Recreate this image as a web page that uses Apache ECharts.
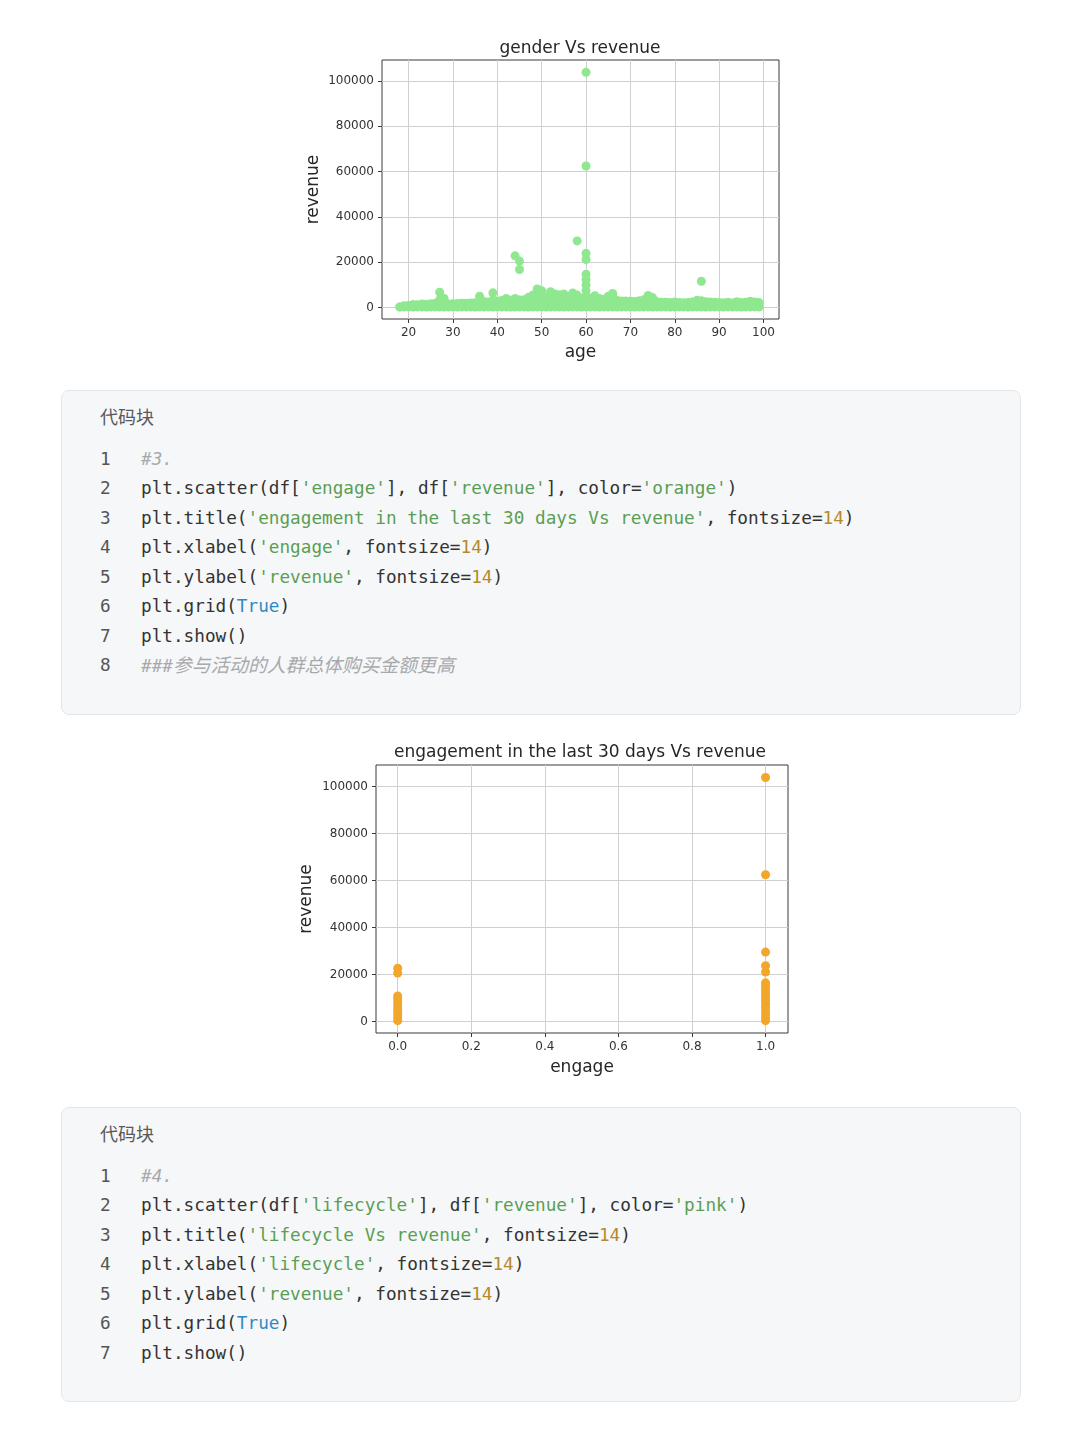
<!DOCTYPE html>
<html>
<head>
<meta charset="utf-8">
<title>revenue scatter</title>
<script src="https://cdn.jsdelivr.net/npm/echarts@6/dist/echarts.min.js"></script>
<style>
    html, body { margin: 0; padding: 0; background: #ffffff; }
    #page { position: relative; width: 1080px; height: 1440px; overflow: hidden; }
    #chart { position: absolute; left: 0; top: 0; width: 1080px; height: 1440px; }
    .code-box {
        position: absolute; left: 61px; width: 960px;
        background: #f6f7f8; border: 1px solid #e4e5e7; border-radius: 8px;
        box-sizing: border-box;
    }
    .code-head {
        position: absolute; left: 38px; font-family: "Noto Sans CJK SC", sans-serif;
        font-size: 18px; color: #595959; line-height: 24px;
    }
    .code-line {
        position: absolute; left: 0; height: 29px; line-height: 29px; white-space: pre;
        font-family: "DejaVu Sans Mono", "Noto Sans CJK SC", monospace; font-size: 17.7px; color: #333333;
    }
    .code-line .no { position: absolute; left: 38px; color: #555555; }
    .code-line .tx { position: absolute; left: 79px; }
    .s { color: #5a9e55; }
    .n { color: #b58a2c; }
    .k { color: #2f8ac4; }
    .c { color: #a7a9ad; font-style: italic; }
    .cjk { font-size: 18.8px; }
</style>
</head>
<body>
<div id="page">
    <div id="chart"></div>

    <div class="code-box" style="top:390px;height:325px;">
        <div class="code-head" style="top:13px;">代码块</div>
        <div class="code-line" style="top:54px;"><span class="no">1</span><span class="tx"><span class="c">#3.</span></span></div>
        <div class="code-line" style="top:83px;"><span class="no">2</span><span class="tx">plt.scatter(df[<span class="s">'engage'</span>], df[<span class="s">'revenue'</span>], color=<span class="s">'orange'</span>)</span></div>
        <div class="code-line" style="top:113px;"><span class="no">3</span><span class="tx">plt.title(<span class="s">'engagement in the last 30 days Vs revenue'</span>, fontsize=<span class="n">14</span>)</span></div>
        <div class="code-line" style="top:142px;"><span class="no">4</span><span class="tx">plt.xlabel(<span class="s">'engage'</span>, fontsize=<span class="n">14</span>)</span></div>
        <div class="code-line" style="top:172px;"><span class="no">5</span><span class="tx">plt.ylabel(<span class="s">'revenue'</span>, fontsize=<span class="n">14</span>)</span></div>
        <div class="code-line" style="top:201px;"><span class="no">6</span><span class="tx">plt.grid(<span class="k">True</span>)</span></div>
        <div class="code-line" style="top:231px;"><span class="no">7</span><span class="tx">plt.show()</span></div>
        <div class="code-line" style="top:260px;"><span class="no">8</span><span class="tx"><span class="c">###<span class="cjk">参与活动的人群总体购买金额更高</span></span></span></div>
    </div>

    <div class="code-box" style="top:1107px;height:295px;">
        <div class="code-head" style="top:13px;">代码块</div>
        <div class="code-line" style="top:54px;"><span class="no">1</span><span class="tx"><span class="c">#4.</span></span></div>
        <div class="code-line" style="top:83px;"><span class="no">2</span><span class="tx">plt.scatter(df[<span class="s">'lifecycle'</span>], df[<span class="s">'revenue'</span>], color=<span class="s">'pink'</span>)</span></div>
        <div class="code-line" style="top:113px;"><span class="no">3</span><span class="tx">plt.title(<span class="s">'lifecycle Vs revenue'</span>, fontsize=<span class="n">14</span>)</span></div>
        <div class="code-line" style="top:142px;"><span class="no">4</span><span class="tx">plt.xlabel(<span class="s">'lifecycle'</span>, fontsize=<span class="n">14</span>)</span></div>
        <div class="code-line" style="top:172px;"><span class="no">5</span><span class="tx">plt.ylabel(<span class="s">'revenue'</span>, fontsize=<span class="n">14</span>)</span></div>
        <div class="code-line" style="top:201px;"><span class="no">6</span><span class="tx">plt.grid(<span class="k">True</span>)</span></div>
        <div class="code-line" style="top:231px;"><span class="no">7</span><span class="tx">plt.show()</span></div>
    </div>
</div>

<script>
// ---- chart 1: gender Vs revenue (age on x) ----
var ages = [18, 19, 20, 21, 22, 23, 24, 25, 26, 27, 28, 29, 30, 31, 32, 33, 34, 35, 36, 37,
    38, 39, 40, 41, 42, 43, 44, 45, 46, 47, 48, 49, 50, 51, 52, 53, 54, 55, 56, 57,
    58, 59, 60, 61, 62, 63, 64, 65, 66, 67, 68, 69, 70, 71, 72, 73, 74, 75, 76, 77,
    78, 79, 80, 81, 82, 83, 84, 85, 86, 87, 88, 89, 90, 91, 92, 93, 94, 95, 96, 97,
    98, 99];
// top of the dense band per age
var revenueHigh = [300, 800, 900, 1300, 1200, 1600, 1500, 1700, 1900, 6800, 4000, 1600, 1700, 1800, 1900, 1900, 2000, 2100, 5000, 2700,
    2500, 6500, 2900, 3100, 4000, 3000, 4000, 3300, 3500, 4500, 5500, 8200, 7400, 4500, 7000, 6000, 5600, 6000, 4800, 6400,
    5500, 4000, 14700, 4200, 5200, 4000, 3600, 5000, 6200, 3100, 2900, 2900, 2800, 2700, 3000, 3400, 5300, 4400, 2600, 2300,
    2300, 2200, 2400, 2200, 2100, 2200, 2500, 3200, 3000, 2600, 2400, 2300, 2200, 2100, 2300, 2000, 2600, 2200, 2300, 2800,
    2500, 2200];
// bottom of the dense band per age
var revenueLow = [200, 300, 300, 250, 300, 300, 250, 300, 300, 300, 250, 300, 300, 250, 300, 300, 300, 250, 300, 300,
    300, 250, 300, 300, 300, 250, 300, 300, 300, 250, 300, 300, 300, 250, 300, 300, 300, 250, 300, 300,
    300, 250, 300, 300, 300, 250, 300, 300, 300, 250, 300, 300, 300, 250, 300, 300, 300, 250, 300, 300,
    300, 250, 300, 300, 300, 250, 300, 300, 300, 250, 300, 300, 300, 250, 300, 300, 300, 250, 300, 300,
    300, 250];
// fill points inside the taller parts of the band
var midAges = [27, 28, 36, 39, 42, 44, 47, 48, 49, 49, 50, 50, 51, 52, 52, 53, 54, 55, 56, 57, 57, 58, 59,
    60, 60, 60, 60, 60, 61, 62, 63, 65, 66, 66, 74, 75];
var midRevenue = [3500, 2100, 2600, 3400, 2100, 2100, 2400, 2900, 2900, 5500, 2900, 5000, 2400, 2800, 5000, 3200, 3000, 3200, 2500, 2800, 4800, 2900, 2100,
    2400, 5000, 7500, 10000, 12400, 2200, 2800, 2100, 2600, 2800, 4800, 2800, 2300];
var outlierAges = [44, 45, 45, 58, 60, 60, 60, 60, 86];
var outlierRevenue = [22800, 20500, 16800, 29400, 21200, 23900, 62400, 103700, 11600];

// ---- chart 2: engagement in the last 30 days Vs revenue ----
var engageValues = [0, 1];
var engage0Revenue = [300, 1500, 2800, 4200, 5500, 7000, 8400, 9800, 10800, 20600, 22600];
var engage1Revenue = [300, 1600, 3000, 4500, 6000, 7500, 9000, 10500, 12000, 13500, 15000, 16400, 21000, 23700, 29500, 62400, 103800];

var ageTicks = [20, 30, 40, 50, 60, 70, 80, 90, 100];
var engageTicks = [0, 0.2, 0.4, 0.6, 0.8, 1.0];
var revenueTicks = [0, 20000, 40000, 60000, 80000, 100000];

var chart = echarts.init(document.getElementById('chart'), null, { renderer: 'canvas' });

var axisFont = 'DejaVu Sans';
var frameColor = '#3a3a3a';
var gridColor = '#d0d0d0';

function pairs(xs, ys) {
    var out = [];
    for (var i = 0; i < xs.length; i++) {
        out.push([xs[i], ys[i]]);
    }
    return out;
}
function column(x, ys) {
    var out = [];
    for (var i = 0; i < ys.length; i++) {
        out.push([x, ys[i]]);
    }
    return out;
}

function valueAxis(opt) {
    return {
        type: 'value',
        gridIndex: opt.grid,
        min: opt.min,
        max: opt.max,
        name: opt.name,
        nameLocation: 'middle',
        nameGap: opt.nameGap,
        nameTextStyle: { fontFamily: axisFont, fontSize: 17, color: '#262626' },
        axisLine: { show: false, onZero: false },
        axisTick: { show: true, inside: false, length: 4, customValues: opt.ticks, lineStyle: { color: frameColor } },
        axisLabel: {
            customValues: opt.ticks, margin: 8, fontFamily: axisFont, fontSize: 12, color: '#333333',
            formatter: opt.formatter || function(v) { return String(v); }
        },
        splitLine: { show: true, lineStyle: { color: gridColor, width: 1 } }
    };
}

var option = {
    animation: false,
    backgroundColor: 'transparent',
    graphic: [
        {
            type: 'text', x: 580, y: 49,
            style: { text: 'gender Vs revenue', fontFamily: axisFont, fontSize: 17, fill: '#262626', textAlign: 'center', textVerticalAlign: 'middle' }
        },
        {
            type: 'text', x: 580, y: 753,
            style: { text: 'engagement in the last 30 days Vs revenue', fontFamily: axisFont, fontSize: 17, fill: '#262626', textAlign: 'center', textVerticalAlign: 'middle' }
        }
    ],
    grid: [
        { left: 382, top: 60, width: 397, height: 259, show: true, borderColor: frameColor, borderWidth: 1, backgroundColor: 'transparent' },
        { left: 376, top: 765, width: 412, height: 268, show: true, borderColor: frameColor, borderWidth: 1, backgroundColor: 'transparent' }
    ],
    xAxis: [
        valueAxis({ grid: 0, min: 14, max: 103.5, name: 'age', nameGap: 25, ticks: ageTicks }),
        valueAxis({ grid: 1, min: -0.059, max: 1.061, name: 'engage', nameGap: 26, ticks: engageTicks,
            formatter: function(v) { return v.toFixed(1); } })
    ],
    yAxis: [
        valueAxis({ grid: 0, min: -5040, max: 109150, name: 'revenue', nameGap: 60, ticks: revenueTicks }),
        valueAxis({ grid: 1, min: -4940, max: 109100, name: 'revenue', nameGap: 61, ticks: revenueTicks })
    ],
    series: [
        {
            type: 'scatter', xAxisIndex: 0, yAxisIndex: 0, symbolSize: 9,
            itemStyle: { color: '#8fe88f', opacity: 1 },
            data: pairs(ages, revenueLow).concat(pairs(ages, revenueHigh), pairs(midAges, midRevenue), pairs(outlierAges, outlierRevenue))
        },
        {
            type: 'scatter', xAxisIndex: 1, yAxisIndex: 1, symbolSize: 9,
            itemStyle: { color: '#f2a72a', opacity: 1 },
            data: column(engageValues[0], engage0Revenue).concat(column(engageValues[1], engage1Revenue))
        }
    ]
};

chart.setOption(option);
</script>
</body>
</html>
